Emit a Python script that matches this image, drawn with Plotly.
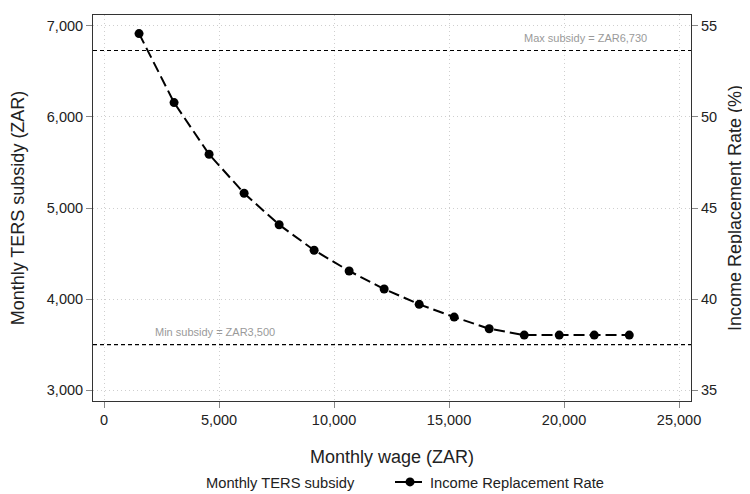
import plotly.graph_objects as go

# Data
wage = [1522, 3045, 4567, 6090, 7612, 9134, 10657, 12179, 13702, 15224, 16746, 18269, 19791, 21314, 22836]
replacement_rate = [54.58, 50.79, 47.95, 45.81, 44.08, 42.68, 41.54, 40.55, 39.71, 39.01, 38.37, 38.02, 38.02, 38.02, 38.02]
subsidy = [6916, 6158, 5590, 5162, 4816, 4536, 4308, 4110, 3942, 3802, 3674, 3604, 3604, 3604, 3604]
max_subsidy = 6730
min_subsidy = 3500
x_ticks = [0, 5000, 10000, 15000, 20000, 25000]
y_ticks = [3000, 4000, 5000, 6000, 7000]
y2_ticks = [35, 40, 45, 50, 55]

FONT = "Liberation Sans, Arial, sans-serif"

fig = go.Figure()

fig.add_trace(go.Scatter(
    x=wage, y=subsidy, name="Monthly TERS subsidy", mode="lines",
    line=dict(color="rgba(0,0,0,0)", width=1), yaxis="y", hoverinfo="skip"))

fig.add_trace(go.Scatter(
    x=wage, y=replacement_rate, name="Income Replacement Rate", mode="lines+markers",
    line=dict(color="black", width=2, dash="11px,5px"),
    marker=dict(color="black", size=9), yaxis="y2"))

for val, label, xpos in [(max_subsidy, "Max subsidy = ZAR6,730", 20913),
                         (min_subsidy, "Min subsidy = ZAR3,500", 4826)]:
    fig.add_shape(type="line", xref="paper", x0=0, x1=1, yref="y", y0=val, y1=val,
                  line=dict(color="black", width=1.2, dash="4px,3px"))
    fig.add_annotation(x=xpos, y=val, xref="x", yref="y", text=label, showarrow=False,
                       yanchor="bottom", yshift=5,
                       font=dict(family=FONT, size=11, color="#9a9a9a"))

axis_common = dict(showline=True, linecolor="#333", linewidth=1, ticks="outside",
                   ticklen=6, tickcolor="#888", tickfont=dict(family=FONT, size=14.5, color="#222"),
                   zeroline=False, automargin=False)

grid = dict(showgrid=True, gridcolor="#cfcfcf", griddash="1px,3px", gridwidth=1)

fig.update_layout(
    width=742, height=486,
    margin=dict(l=85, r=59, t=7, b=93, autoexpand=False),
    plot_bgcolor="white", paper_bgcolor="white",
    font=dict(family=FONT, color="#222"),
    xaxis=dict(range=[-480, 25520], tickvals=x_ticks, tickformat=",", mirror=True,
               title=dict(text="Monthly wage (ZAR)", font=dict(family=FONT, size=18, color="#222"), standoff=22),
               **grid, **axis_common),
    yaxis=dict(range=[2880, 7120], tickvals=y_ticks, tickformat=",", mirror=True,
               title=dict(text="Monthly TERS subsidy (ZAR)", font=dict(family=FONT, size=18, color="#222"), standoff=19),
               **grid, **axis_common),
    yaxis2=dict(range=[34.4, 55.6], tickvals=y2_ticks, overlaying="y", side="right",
                showgrid=False,
                title=dict(text="Income Replacement Rate (%)", font=dict(family=FONT, size=18, color="#222"), standoff=12),
                **axis_common),
    legend=dict(orientation="h", x=0.1221, xanchor="left", y=-0.168, yanchor="top",
                font=dict(family=FONT, size=14.7, color="#222"), bgcolor="rgba(0,0,0,0)",
                entrywidth=179, entrywidthmode="pixels"),
    showlegend=True,
)

fig.write_html("out.html")
